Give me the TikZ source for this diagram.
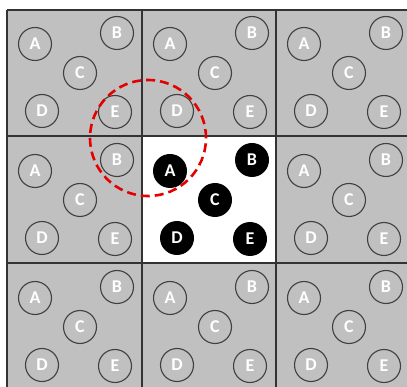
\documentclass[tikz,border=0pt]{standalone}
\usepackage{fontspec}
\setmainfont{Carlito}
\begin{document}
\begin{tikzpicture}[x=1pt,y=-1pt,
  gridline/.style={draw=black!80,line width=1.4pt},
  ball/.style={circle,draw=black!75,line width=1.1pt,fill=gray75,minimum size=33pt,inner sep=0pt,text=white,font=\bfseries\fontsize{18}{18}\selectfont},
  blackball/.style={circle,fill=black,minimum size=34pt,inner sep=0pt,text=white,font=\bfseries\fontsize{18}{18}\selectfont},
  zone/.style={draw=red!90!black,line width=2.6pt,dash pattern=on 9pt off 5pt}]
\definecolor{gray75}{RGB}{192,192,192}
\useasboundingbox (0,0) rectangle (407,387);
\fill[gray75] (7,10) rectangle (407,387);
\fill[white] (142,136) rectangle (276,263);
% grid lines
\draw[gridline] (7,10) -- (407,10);
\draw[gridline] (7,136) -- (407,136);
\draw[gridline] (7,263) -- (407,263);
\draw[gridline] (7,10) -- (7,387);
\draw[gridline] (142,10) -- (142,387);
\draw[gridline] (276,10) -- (276,387);
% circles
\foreach \cx/\i in {7/1,142/2,276/3}{
  \foreach \cy/\j in {9/1,136/2,263/3}{
    \ifnum\i=2 \ifnum\j=2 \def\sty{blackball}\else\def\sty{ball}\fi\else\def\sty{ball}\fi
    \node[\sty] (A-\i-\j) at (\cx+28,\cy+35) {A};
    \node[\sty] (B-\i-\j) at (\cx+110,\cy+24) {B};
    \node[\sty] (C-\i-\j) at (\cx+73,\cy+64) {C};
    \node[\sty] (D-\i-\j) at (\cx+35,\cy+102) {D};
    \node[\sty] (E-\i-\j) at (\cx+108,\cy+103) {E};
  }
}
\node[zone,circle,minimum size=116pt,inner sep=0pt] (zone) at (148,138) {};
\end{tikzpicture}
\end{document}
